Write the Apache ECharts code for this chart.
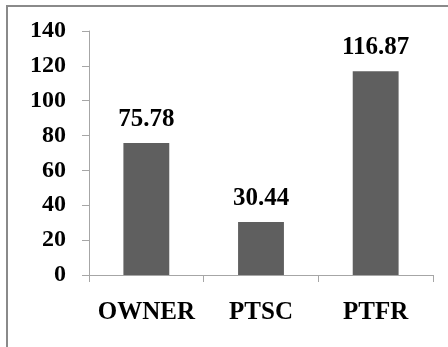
<!DOCTYPE html>
<html>
<head>
<meta charset="utf-8">
<script src="https://cdn.jsdelivr.net/npm/echarts@6/dist/echarts.min.js"></script>
<style>
  html, body { margin: 0; padding: 0; background: #fff; }
  #chart { width: 448px; height: 347px; }
</style>
</head>
<body>
<div id="chart"></div>
<script>
// Categories and their values
const categories = ['OWNER', 'PTSC', 'PTFR'];
const values = [75.78, 30.44, 116.87];
// Value axis range
const yMin = 0;
const yMax = 140;
const yStep = 20;

const serif = '"Liberation Serif", "Times New Roman", serif';
const axisGray = '#a6a6a6';

const chart = echarts.init(document.getElementById('chart'), null, { renderer: 'canvas' });

chart.setOption({
  animation: false,
  backgroundColor: '#ffffff',
  graphic: [{
    type: 'rect',
    shape: { x: 7, y: 6, width: 470, height: 370 },
    style: { fill: 'none', stroke: '#8a8a8a', lineWidth: 2 },
    silent: true
  }],
  grid: { left: 89, right: 15, top: 31, bottom: 72 },
  xAxis: {
    type: 'category',
    data: categories,
    axisLine: { show: true, lineStyle: { color: axisGray, width: 1 } },
    axisTick: { show: true, length: 7, lineStyle: { color: axisGray } },
    axisLabel: {
      interval: 0,
      hideOverlap: false,
      margin: 25,
      fontFamily: serif,
      fontWeight: 'bold',
      fontSize: 25,
      color: '#000'
    }
  },
  yAxis: {
    type: 'value',
    min: yMin,
    max: yMax,
    interval: yStep,
    splitLine: { show: false },
    axisLine: { show: true, lineStyle: { color: axisGray, width: 1 } },
    axisTick: { show: true, length: 7, lineStyle: { color: axisGray } },
    axisLabel: {
      margin: 23,
      fontFamily: serif,
      fontWeight: 'bold',
      fontSize: 24,
      color: '#000'
    }
  },
  series: [{
    type: 'bar',
    data: values,
    barWidth: '40%',
    itemStyle: { color: '#5f5f5f' },
    label: {
      show: true,
      position: 'top',
      distance: 11,
      fontFamily: serif,
      fontWeight: 'bold',
      fontSize: 25,
      color: '#000',
      formatter: p => p.value.toFixed(2)
    }
  }]
});
</script>
</body>
</html>
